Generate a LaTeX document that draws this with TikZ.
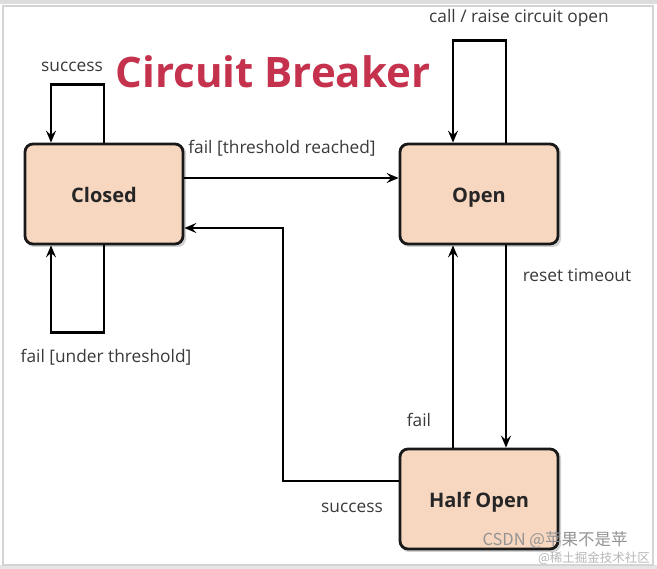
\documentclass[tikz,border=0pt]{standalone}
\usepackage{fontspec}
\setmainfont{Open Sans}
\newfontfamily\cjk{Noto Sans CJK SC}
\usetikzlibrary{arrows.meta,calc}
\definecolor{peach}{HTML}{F8D7C1}
\definecolor{titlered}{HTML}{C5324D}
\definecolor{labelgray}{HTML}{3A3A3A}
\definecolor{framegray}{HTML}{D4D4D4}
\tikzset{
  state/.style={draw=black!90, line width=2.8pt, fill=peach, rounded corners=8pt,
    minimum width=158pt, minimum height=100pt, font=\fontsize{20}{23}\selectfont\bfseries, text=black!85,
    text height=18pt, text depth=0pt},
  shadowbox/.style={fill=black!18, rounded corners=8pt, minimum width=160pt, minimum height=102pt},
  arr/.style={line width=2.8pt, draw=black, -{Stealth[length=12pt,width=10pt,inset=4.5pt]}},
  lbl/.style={font=\fontsize{17.3}{20}\selectfont, text=labelgray, inner sep=0pt},
}
\begin{document}
\begin{tikzpicture}[x=1pt,y=-1pt]
\useasboundingbox (0,0) rectangle (657,569);
\fill[white] (0,0) rectangle (657,569);
\fill[framegray!80] (0,0) rectangle (657,4);
\fill[framegray!60] (0,565) rectangle (657,569);
\draw[framegray, line width=1.2pt] (3,6) rectangle (653,565);
% shadows
\node[shadowbox] at (106,196) {};
\node[shadowbox] at (481,196) {};
\node[shadowbox] at (481,501) {};
% states
\node[state] (closed) at (104,194) {Closed};
\node[state] (open) at (479,194) {Open};
\node[state] (half) at (479,499) {Half Open};
\coordinate (bend) at (283,228);
% connectors
\draw[arr] (closed.north) -- ++(0,-58) -| ([xshift=-53pt]closed.north);
\draw[arr] (closed.south) -- ++(0,87) -| ([xshift=-53pt]closed.south);
\draw[arr] ([xshift=27pt]open.north) -- ++(0,-102) -| ([xshift=-26pt]open.north);
\draw[arr] ([yshift=16pt]closed.east) -- ([yshift=16pt]open.west);
\draw[arr] ([yshift=18pt]half.west) -| (bend) -- ([yshift=-34pt]closed.east);
\draw[arr] ([xshift=-26pt]half.north) -- ([xshift=-26pt]open.south);
\draw[arr] ([xshift=27pt]open.south) -- ([xshift=27pt]half.north);
% labels
\node[lbl] (lcall) at (519,18) {call / raise circuit open};
\node[lbl] (lsucc1) at (72,67) {success};
\node[font=\fontsize{42}{48}\selectfont\bfseries, text=titlered, inner sep=0pt] (title) at (273,72) {Circuit Breaker};
\node[lbl] (lthr) at (282,148) {fail [threshold reached]};
\node[lbl] (lreset) at (577,275) {reset timeout};
\node[lbl] (lunder) at (106,357) {fail [under threshold]};
\node[lbl] (lfail) at (419,420) {fail};
\node[lbl] (lsucc2) at (352,508) {success};
% watermark
\node[font=\cjk\fontsize{12.5}{14}\selectfont, text=black!28, inner sep=0pt] (wm2) at (594,558) {@稀土掘金技术社区};
\node[font=\cjk\fontsize{16.5}{18}\selectfont, text=black!42, inner sep=0pt] (wm1) at (555,540) {CSDN @苹果不是苹};
\end{tikzpicture}
\end{document}
